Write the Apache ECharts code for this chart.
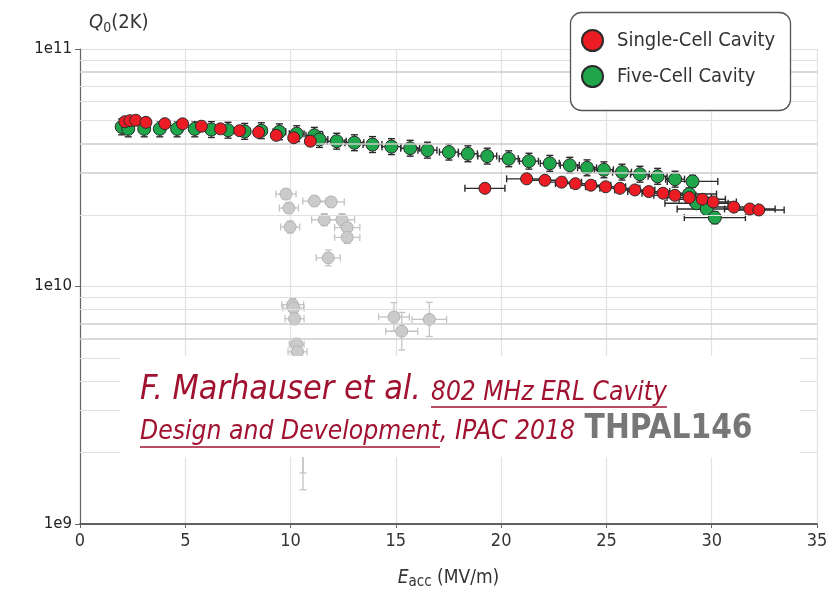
<!DOCTYPE html>
<html><head><meta charset="utf-8">
<script src="https://cdn.jsdelivr.net/npm/echarts@6/dist/echarts.min.js"></script>
<style>html,body{margin:0;padding:0;background:#fff}#c{width:833px;height:595px}</style>
</head><body><div id="c"></div>
<script>
// ---------------- data ----------------
const xTicks = [0, 5, 10, 15, 20, 25, 30, 35];
const yTickValues = [1e9, 1e10, 1e11];
const yTickLabels = ['1e9', '1e10', '1e11'];
const minorGridQ = [2e9, 3e9, 4e9, 5e9, 6e9, 7e9, 8e9, 9e9, 2e10, 3e10, 4e10, 5e10, 6e10, 7e10, 8e10, 9e10];
const darkMinorQ = [3e10, 4e10, 8e10, 6e9, 7e9];

const seriesNames = ['Single-Cell Cavity', 'Five-Cell Cavity'];

// Single-cell cavity (red)
const singleE = [2.13, 2.37, 2.65, 3.13, 4.03, 4.87, 5.77, 6.67, 7.58, 8.48, 9.32, 10.15, 10.94,
  19.23, 21.21, 22.08, 22.87, 23.53, 24.26, 24.96, 25.64, 26.35, 27.01, 27.69, 28.25, 28.93, 29.55, 30.07, 31.05, 31.81, 32.24];
const singleQ = [4.94e10, 4.99e10, 5.01e10, 4.91e10, 4.85e10, 4.84e10, 4.73e10, 4.61e10, 4.53e10, 4.46e10, 4.33e10, 4.23e10, 4.09e10,
  2.59e10, 2.84e10, 2.80e10, 2.75e10, 2.71e10, 2.67e10, 2.63e10, 2.59e10, 2.55e10, 2.51e10, 2.47e10, 2.42e10, 2.37e10, 2.33e10, 2.27e10, 2.16e10, 2.12e10, 2.10e10];
const singleEErr = [0.2, 0.2, 0.2, 0.2, 0.2, 0.2, 0.2, 0.2, 0.2, 0.2, 0.2, 0.2, 0.2,
  0.95, 0.95, 0.95, 0.95, 0.95, 0.95, 0.95, 0.95, 0.95, 1.0, 1.0, 1.0, 1.05, 1.1, 1.1, 1.15, 1.2, 1.2];
const singleQErr = [0.03, 0.03, 0.03, 0.03, 0.03, 0.03, 0.03, 0.03, 0.03, 0.03, 0.03, 0.03, 0.03,
  0.03, 0.03, 0.03, 0.03, 0.03, 0.03, 0.03, 0.03, 0.03, 0.03, 0.03, 0.03, 0.03, 0.03, 0.03, 0.03, 0.03, 0.03];

// Five-cell cavity (green)
const fiveE = [1.98, 2.29, 3.05, 3.79, 4.61, 5.45, 6.24, 7.03, 7.82, 8.61, 9.47, 10.29, 11.13, 11.37, 12.19, 13.03, 13.89, 14.79, 15.68, 16.50,
  17.52, 18.42, 19.34, 20.36, 21.32, 22.31, 23.26, 24.08, 24.88, 25.74, 26.59, 27.43, 28.26, 29.09, 28.93, 29.28, 29.76, 30.15];
const fiveQ = [4.70e10, 4.61e10, 4.61e10, 4.61e10, 4.61e10, 4.61e10, 4.58e10, 4.55e10, 4.50e10, 4.53e10, 4.48e10, 4.40e10, 4.33e10, 4.16e10, 4.09e10, 4.03e10, 3.96e10, 3.88e10, 3.82e10, 3.75e10,
  3.68e10, 3.62e10, 3.54e10, 3.45e10, 3.37e10, 3.30e10, 3.24e10, 3.16e10, 3.10e10, 3.03e10, 2.97e10, 2.91e10, 2.83e10, 2.77e10, 2.45e10, 2.24e10, 2.12e10, 1.95e10];
const fiveEErr = [0.25, 0.25, 0.25, 0.25, 0.25, 0.25, 0.25, 0.25, 0.25, 0.25, 0.3, 0.35, 0.4, 0.4, 0.45, 0.45, 0.45, 0.45, 0.45, 0.45,
  0.45, 0.45, 0.45, 0.45, 0.45, 0.45, 0.45, 0.45, 0.45, 0.45, 0.45, 0.45, 0.45, 1.2, 1.3, 1.5, 1.4, 1.45];
const fiveQErr = [0.08, 0.08, 0.08, 0.08, 0.08, 0.08, 0.08, 0.08, 0.08, 0.08, 0.08, 0.08, 0.08, 0.08, 0.08, 0.08, 0.08, 0.08, 0.08, 0.08,
  0.08, 0.08, 0.08, 0.08, 0.08, 0.08, 0.08, 0.08, 0.08, 0.08, 0.08, 0.08, 0.08, 0.06, 0.06, 0.06, 0.06, 0.06];

// Other (faded grey) measurements
const otherE = [9.78, 9.92, 9.98, 11.13, 11.93, 11.60, 12.44, 12.69, 12.69, 11.79, 10.10, 10.14, 10.19, 10.29, 10.33, 14.91, 15.28, 16.59, 10.59, 10.59];
const otherQ = [2.45e10, 2.14e10, 1.78e10, 2.29e10, 2.27e10, 1.91e10, 1.91e10, 1.77e10, 1.61e10, 1.32e10, 8.38e9, 8.12e9, 7.32e9, 5.71e9, 5.31e9, 7.44e9, 6.48e9, 7.27e9, 2.6e9, 2.3e9];
const otherEErr = [0.48, 0.45, 0.45, 0.55, 0.62, 0.6, 0.6, 0.6, 0.6, 0.57, 0.52, 0.5, 0.45, 0.35, 0.45, 0.73, 0.76, 0.82, 0.3, 0.3];
const otherQErr = [0.05, 0.05, 0.06, 0.05, 0.05, 0.06, 0.06, 0.08, 0.06, 0.08, 0.06, 0.06, 0.06, 0.06, 0.06, 0.15, 0.2, 0.18, 0.585, 0.65];

// ---------------- chart ----------------
const chart = echarts.init(document.getElementById('c'), null, {renderer: 'canvas'});
const NARROW = "'Liberation Sans Narrow','Arial Narrow','DejaVu Sans Condensed',sans-serif";
const RED = '#ec1c24', GREEN = '#1fa64b', TXT_RED = '#a0122f';

function errRender(E, Q, dE, dQ, color, lw) {
  return function (params, api) {
    const i = params.dataIndex;
    const x = E[i], y = Q[i], ex = dE[i], ey = dQ[i];
    const c = api.coord([x, y]);
    const l = api.coord([x - ex, y]), r = api.coord([x + ex, y]);
    const t = api.coord([x, y * (1 + ey)]), b = api.coord([x, y / (1 + ey)]);
    const st = {stroke: color, lineWidth: lw};
    const cap = 3.5;
    return {type: 'group', children: [
      {type: 'line', shape: {x1: l[0], y1: c[1], x2: r[0], y2: c[1]}, style: st},
      {type: 'line', shape: {x1: l[0], y1: c[1] - cap, x2: l[0], y2: c[1] + cap}, style: st},
      {type: 'line', shape: {x1: r[0], y1: c[1] - cap, x2: r[0], y2: c[1] + cap}, style: st},
      {type: 'line', shape: {x1: c[0], y1: t[1], x2: c[0], y2: b[1]}, style: st},
      {type: 'line', shape: {x1: c[0] - cap, y1: t[1], x2: c[0] + cap, y2: t[1]}, style: st},
      {type: 'line', shape: {x1: c[0] - cap, y1: b[1], x2: c[0] + cap, y2: b[1]}, style: st}
    ]};
  };
}
const pts = (E, Q) => E.map((e, i) => [e, Q[i]]);

// annotation text layout (measured)
const ctx = document.createElement('canvas').getContext('2d');
function measure(text, style, weight, size) { ctx.font = style + ' ' + weight + ' ' + size + 'px ' + NARROW; return ctx.measureText(text).width; }
function fitSize(text, style, weight, target) { return 100 * target / measure(text, style, weight, 100); }
const a1 = 'F. Marhauser et al.', a2 = '802 MHz ERL Cavity', a3 = 'Design and Development', a4 = ', IPAC 2018 ', a5 = 'THPAL146';
const s1 = fitSize(a1, 'italic', 'normal', 281);
const s2 = fitSize(a2, 'italic', 'normal', 236);
const s3 = fitSize(a3, 'italic', 'normal', 300);
const s5 = fitSize(a5, 'normal', 'bold', 168);
const w2 = measure(a2, 'italic', 'normal', s2), w3 = measure(a3, 'italic', 'normal', s3), w4 = measure(a4, 'italic', 'normal', s3);
const base1 = 402, base2 = 441;
function txt(text, x, base, size, style, weight, color) {
  return {type: 'text', z: 101, x: x, y: base - 0.35 * size,
    style: {text: text, fontSize: size, fontStyle: style, fontWeight: weight, fontFamily: NARROW, fill: color, align: 'left', verticalAlign: 'middle'}};
}
function uline(x1, x2, y) {
  return {type: 'line', z: 101, shape: {x1: x1, y1: y, x2: x2, y2: y}, style: {stroke: TXT_RED, lineWidth: 1.6}};
}

const option = {
  animation: false,
  backgroundColor: '#fff',
  grid: {left: 80, right: 16, top: 49, bottom: 68},
  legend: {
    data: seriesNames, orient: 'vertical', left: 581, top: 29, z: 20,
    icon: 'circle', itemWidth: 21, itemHeight: 21, itemGap: 13, padding: 0,
    textStyle: {fontSize: 20, color: '#333', fontFamily: NARROW, padding: [0, 0, 0, 9]}
  },
  xAxis: {
    type: 'value', min: xTicks[0], max: xTicks[xTicks.length - 1], interval: 5,
    name: '{e|E}{s|acc} (MV/m)', nameLocation: 'middle', nameGap: 42,
    nameTextStyle: {fontSize: 19, color: '#333', fontFamily: NARROW, lineHeight: 24, verticalAlign: 'top',
      rich: {e: {fontSize: 19, fontStyle: 'italic', fontFamily: NARROW, color: '#333', lineHeight: 24, verticalAlign: 'middle'},
             s: {fontSize: 15, fontFamily: NARROW, color: '#333', lineHeight: 15, verticalAlign: 'bottom'}}},
    axisLine: {lineStyle: {color: '#333', width: 1.5}},
    axisTick: {show: true, length: 4, lineStyle: {color: '#666'}},
    axisLabel: {fontSize: 18, color: '#333', fontFamily: NARROW, margin: 8},
    splitLine: {show: true, lineStyle: {color: '#e2e2e2', width: 1.2}}
  },
  yAxis: {
    type: 'log', logBase: 10, min: yTickValues[0], max: yTickValues[yTickValues.length - 1],
    axisLine: {show: true, lineStyle: {color: '#666', width: 1.2}},
    axisTick: {show: true, length: 5, lineStyle: {color: '#666'}},
    axisLabel: {fontSize: 15, color: '#222', fontFamily: 'DejaVu Sans', margin: 8,
      formatter: v => { const k = yTickValues.findIndex(t => Math.abs(Math.log10(t) - Math.log10(v)) < 1e-6); return k >= 0 ? yTickLabels[k] : ''; }},
    splitLine: {show: true, lineStyle: {color: '#dedede', width: 1.2}}
  },
  graphic: [
    {type: 'text', x: 89, y: 23, z: 50,
      style: {text: '{q|Q}{s|0}{n|(2K)}', align: 'left', verticalAlign: 'middle',
        rich: {q: {fontSize: 20, fontStyle: 'italic', fontFamily: NARROW, fill: '#333', lineHeight: 24, verticalAlign: 'middle'},
               s: {fontSize: 14, fontFamily: NARROW, fill: '#333', lineHeight: 14, verticalAlign: 'bottom'},
               n: {fontSize: 20, fontFamily: NARROW, fill: '#333', lineHeight: 24, verticalAlign: 'middle'}}}},
    {type: 'rect', z: 15, shape: {x: 570.5, y: 12.5, width: 220, height: 98, r: 11},
      style: {fill: '#fff', stroke: '#555', lineWidth: 1.3}},
    {type: 'rect', z: 100, shape: {x: 120, y: 356, width: 680, height: 101}, style: {fill: '#fff'}},
    txt(a1, 140, base1, s1, 'italic', 'normal', TXT_RED),
    txt(a2, 431, base1, s2, 'italic', 'normal', TXT_RED),
    uline(431, 431 + w2, base1 + 5),
    txt(a3, 140, base2, s3, 'italic', 'normal', TXT_RED),
    uline(140, 140 + w3, base2 + 6),
    txt(a4, 140 + w3, base2, s3, 'italic', 'normal', TXT_RED),
    txt(a5, 140 + w3 + w4 + 2, base2, s5, 'normal', 'bold', '#777')
  ],
  series: [
    {type: 'line', name: 'grid', data: [], z: 1, silent: true,
      markLine: {silent: true, symbol: 'none', label: {show: false}, animation: false,
        lineStyle: {type: 'solid', width: 1.2, color: '#dcdcdc'},
        data: minorGridQ.map(v => ({yAxis: v, lineStyle: {type: 'solid', width: darkMinorQ.includes(v) ? 1.5 : 1.2, color: darkMinorQ.includes(v) ? '#cccccc' : '#e0e0e0'}}))}},
    {type: 'custom', name: 'otherErr', data: pts(otherE, otherQ), encode: {x: 0, y: 1}, z: 2, silent: true,
      renderItem: errRender(otherE, otherQ, otherEErr, otherQErr, '#c4c4c4', 1.3)},
    {type: 'scatter', name: 'Other', data: pts(otherE, otherQ), symbolSize: 12, z: 2, silent: true,
      itemStyle: {color: '#cbcbcb', borderColor: '#b3b3b3', borderWidth: 1, opacity: 1}},
    {type: 'custom', name: 'fiveErr', data: pts(fiveE, fiveQ), encode: {x: 0, y: 1}, z: 3, silent: true,
      renderItem: errRender(fiveE, fiveQ, fiveEErr, fiveQErr, '#2a2a2a', 1.4)},
    {type: 'custom', name: 'singleErr', data: pts(singleE, singleQ), encode: {x: 0, y: 1}, z: 3, silent: true,
      renderItem: errRender(singleE, singleQ, singleEErr, singleQErr, '#2a2a2a', 1.4)},
    {type: 'scatter', name: seriesNames[1], data: pts(fiveE, fiveQ), symbolSize: 13, z: 4,
      itemStyle: {color: GREEN, borderColor: '#2b2b2b', borderWidth: 1, opacity: 1}},
    {type: 'scatter', name: seriesNames[0], data: pts(singleE, singleQ), symbolSize: 12, z: 5,
      itemStyle: {color: RED, borderColor: '#2b2b2b', borderWidth: 1, opacity: 1}}
  ]
};
chart.setOption(option);
</script>
</body></html>
